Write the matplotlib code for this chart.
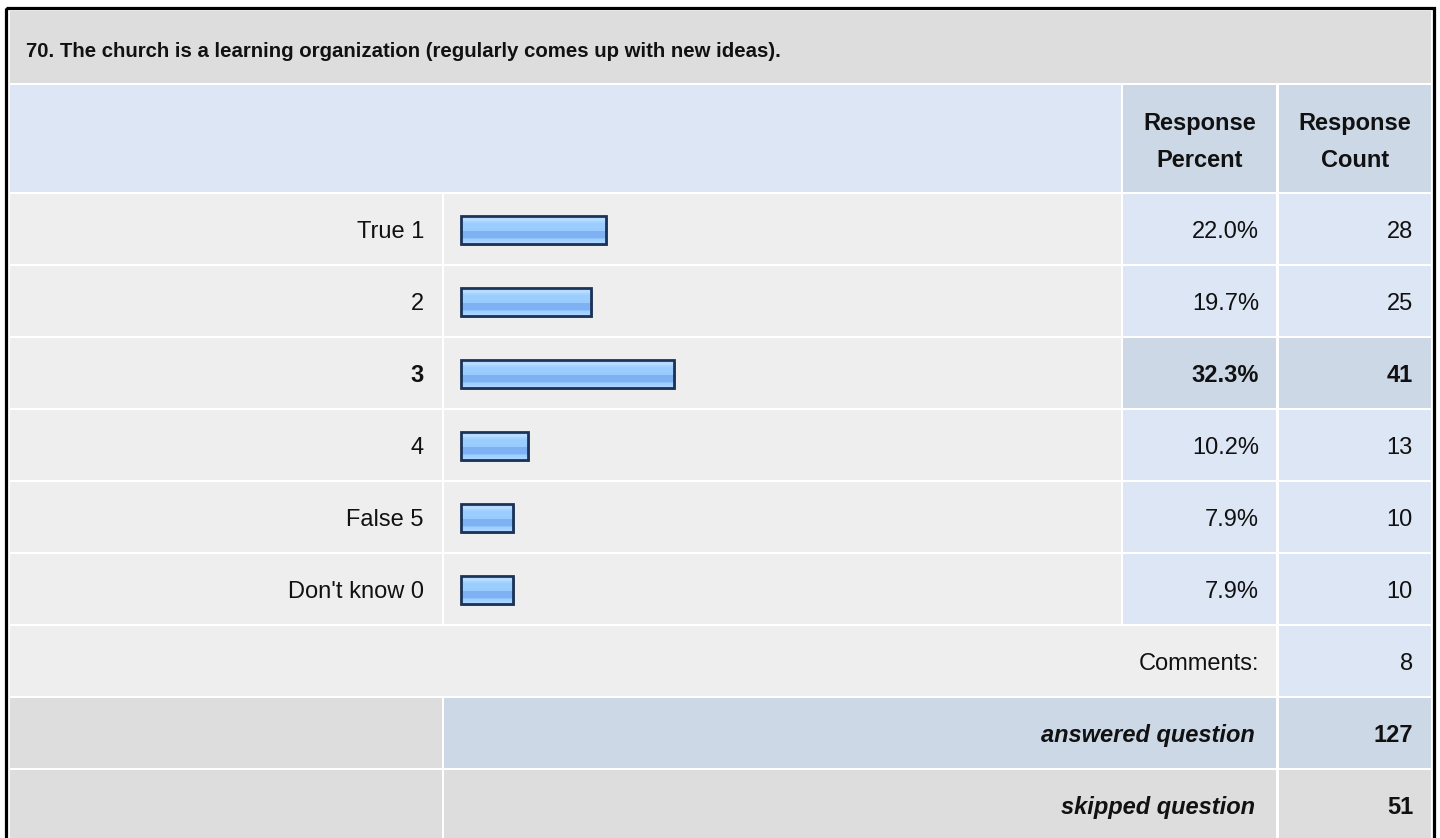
import numpy as np
import matplotlib
matplotlib.use("Agg")
import matplotlib.pyplot as plt
from matplotlib.patches import Rectangle
from matplotlib.colors import to_rgb
import matplotlib.patheffects as pe

plt.rcParams['font.family'] = ['Liberation Sans', 'DejaVu Sans']

# ---- data ----
title = "70. The church is a learning organization (regularly comes up with new ideas)."
labels = ["True 1", "2", "3", "4", "False 5", "Don't know 0"]
percents = [22.0, 19.7, 32.3, 10.2, 7.9, 7.9]
counts = [28, 25, 41, 13, 10, 10]
comments_count = 8
answered = 127
skipped = 51
col_headers = ["Response\nPercent", "Response\nCount"]

# ---- style ----
W, H = 1440, 838
GRAY = "#DDDDDD"
LIGHT = "#EEEEEE"
BLUE = "#DCE6F4"
BLUE2 = "#CCD8E6"
FS = 17
FS_TITLE = 14.7
TXT = "#111111"

fig = plt.figure(figsize=(W / 100, H / 100), dpi=100)
ax = fig.add_axes([0, 0, 1, 1])
ax.set_xlim(0, W)
ax.set_ylim(H, 0)
ax.axis("off")

def cell(x0, x1, y0, y1, c):
    ax.add_patch(Rectangle((x0, y0), x1 - x0, y1 - y0, facecolor=c, edgecolor="none", zorder=1))

# columns
CL = (10, 442)
CB = (444, 1121)
CP = (1123, 1276)
CC = (1279, 1431)

# outer border
ax.add_patch(Rectangle((5.5, 8.5), 1428, 900, facecolor="none", edgecolor="black", lw=2.3, zorder=5))

# title row
cell(10, 1431, 11, 83, GRAY)
ax.text(26, 57, title, fontsize=FS_TITLE, fontweight="bold", ha="left", va="baseline", color=TXT, zorder=6)

# header row
cell(10, CB[1], 85, 192, BLUE)
cell(CP[0], CP[1], 85, 192, BLUE2)
cell(CC[0], CC[1], 85, 192, BLUE2)
for (c0, c1), hdr in zip([CP, CC], col_headers):
    l1, l2 = hdr.split("\n")
    ax.text((c0 + c1) / 2, 130, l1, fontsize=FS, fontweight="bold", ha="center", va="baseline", color=TXT, zorder=6)
    ax.text((c0 + c1) / 2, 167, l2, fontsize=FS, fontweight="bold", ha="center", va="baseline", color=TXT, zorder=6)

# data rows
ROW0, RH, GAP = 194, 70, 2
imax = int(np.argmax(counts))
for i, (lab, p, c) in enumerate(zip(labels, percents, counts)):
    y0 = ROW0 + i * (RH + GAP)
    y1 = y0 + RH
    yb = (y0 + y1) / 2 + 8.5
    hl = (i == imax)
    cell(CL[0], CL[1], y0, y1, LIGHT)
    cell(CB[0], CB[1], y0, y1, LIGHT)
    cell(CP[0], CP[1], y0, y1, BLUE2 if hl else BLUE)
    cell(CC[0], CC[1], y0, y1, BLUE2 if hl else BLUE)
    fw = "bold" if hl else "normal"
    ax.text(CL[1] - 18, yb, lab, fontsize=FS, fontweight=fw, ha="right", va="baseline", color=TXT, zorder=6)
    ax.text(CP[1] - 17, yb, f"{p:.1f}%", fontsize=FS, fontweight=fw, ha="right", va="baseline", color=TXT, zorder=6)
    ax.text(CC[1] - 18, yb, f"{c}", fontsize=FS, fontweight=fw, ha="right", va="baseline", color=TXT, zorder=6)

# comments row
yc0 = ROW0 + 6 * (RH + GAP)
cell(CL[0], CP[1], yc0, yc0 + RH, LIGHT)
cell(CC[0], CC[1], yc0, yc0 + RH, BLUE)
ax.text(CP[1] - 17, yc0 + RH / 2 + 8.5, "Comments:", fontsize=FS, ha="right", va="baseline", color=TXT, zorder=6)
ax.text(CC[1] - 18, yc0 + RH / 2 + 8.5, f"{comments_count}", fontsize=FS, ha="right", va="baseline", color=TXT, zorder=6)

# answered row
ya0 = yc0 + RH + GAP
cell(CL[0], CL[1], ya0, ya0 + RH, GRAY)
cell(CB[0], CP[1], ya0, ya0 + RH, BLUE2)
cell(CC[0], CC[1], ya0, ya0 + RH, BLUE2)
ax.text(CP[1] - 21, ya0 + RH / 2 + 8.5, "answered question", fontsize=FS, fontweight="bold", fontstyle="italic",
        ha="right", va="baseline", color=TXT, zorder=6)
ax.text(CC[1] - 18, ya0 + RH / 2 + 8.5, f"{answered}", fontsize=FS, fontweight="bold", ha="right", va="baseline",
        color=TXT, zorder=6)

# skipped row
ys0 = ya0 + RH + GAP
cell(CL[0], CL[1], ys0, ys0 + 200, GRAY)
cell(CB[0], CP[1], ys0, ys0 + 200, GRAY)
cell(CC[0], CC[1], ys0, ys0 + 200, GRAY)
ax.text(CP[1] - 21, ys0 + RH / 2 + 8.5, "skipped question", fontsize=FS, fontweight="bold", fontstyle="italic",
        ha="right", va="baseline", color=TXT, zorder=6)
ax.text(CC[1] - 18, ys0 + RH / 2 + 8.5, f"{skipped}", fontsize=FS, fontweight="bold", ha="right", va="baseline",
        color=TXT, zorder=6)

# ---- bars ----
bar_left_px, bar_full_px = 461, 660
axb = fig.add_axes([bar_left_px / W, 1 - (ROW0 + 6 * (RH + GAP)) / H, bar_full_px / W, 6 * (RH + GAP) / H])
axb.patch.set_alpha(0)
axb.axis("off")
ypos = np.arange(len(labels))
bh = 0.40
bars = axb.barh(ypos, percents, height=bh, left=0, color="#99CCFF", edgecolor="none", zorder=2,
                clip_on=False)

stripes = ["#CDE8FF", "#CDE8FF", "#B6DCFF", "#B6DCFF", "#A5D3FF", "#9CCDFF", "#9CCDFF", "#9CCDFF",
           "#9ACBFF", "#9ACBFF", "#7DB1F1", "#7DB1F1", "#7DB1F1", "#7DB1F1", "#8FC2FA", "#9FCEFF",
           "#A8D4FF", "#A8D4FF"]
grad = np.array([to_rgb(s) for s in stripes]).reshape(len(stripes), 1, 3)
for b, y, p in zip(bars, ypos, percents):
    b.set_path_effects([pe.SimplePatchShadow(offset=(1.5, -1.5), shadow_rgbFace="#7E8EA6", alpha=0.7),
                        pe.Normal()])
    im = axb.imshow(grad, extent=(0, p, y + bh / 2, y - bh / 2), aspect="auto", interpolation="nearest",
                    zorder=3)
    im.set_clip_path(b)
    axb.add_patch(Rectangle((0, y - bh / 2), p, bh, facecolor="none", edgecolor="#1B3358", lw=2.0,
                            zorder=4, clip_on=False))

axb.set_xlim(0, 100)
axb.set_ylim(len(labels) - 0.5, -0.5)

fig.savefig("out.png", dpi=100)
